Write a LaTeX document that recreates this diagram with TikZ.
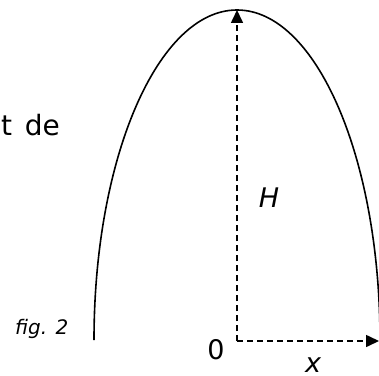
\documentclass[tikz,border=0pt]{standalone}
\usepackage{fontspec}
\setmainfont{DejaVu Sans}
\usetikzlibrary{arrows.meta,positioning}
\tikzset{
  curve/.style={line width=1.6pt,black},
  axis/.style={line width=1.6pt,dash pattern=on 6pt off 4pt,-{Triangle[length=13pt,width=12pt]}},
  label/.style={font=\fontsize{27}{32}\selectfont,inner sep=0pt},
  mathlabel/.style={font=\fontsize{27}{32}\selectfont\itshape,inner sep=0pt},
  smalllabel/.style={font=\fontsize{20}{24}\selectfont\itshape,inner sep=0pt}
}
\begin{document}
\begin{tikzpicture}[x=1pt,y=1pt]
  \useasboundingbox (0,0) rectangle (379,375);
  \clip (0,0) rectangle (379,375);
  % trajectory
  \draw[curve] (94,35) arc[start angle=180,end angle=0,x radius=143,y radius=330];
  \coordinate (origin) at (237,34);
  \coordinate (top) at (237,365);
  \coordinate (right) at (379,34);
  \draw[axis] (origin) -- (top);
  \draw[axis] (origin) -- (right);
  \node[label] (zero) at (216,25) {0};
  \node[mathlabel] (height) at (269,177) {H};
  \node[mathlabel,anchor=base] (dist) at (313,3) {x};
  \node[smalllabel,anchor=base west] (fig) at (15,41) {fig. 2};
  \node[label,font=\fontsize{28}{32}\selectfont,anchor=base east] (text) at (60,239) {t\hspace{0.45em}de};
\end{tikzpicture}
\end{document}
